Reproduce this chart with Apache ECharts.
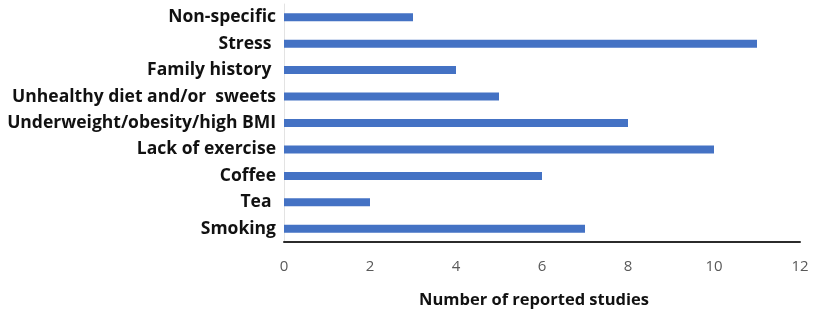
<!DOCTYPE html>
<html><head><meta charset="utf-8">
<script src="https://cdn.jsdelivr.net/npm/echarts@6/dist/echarts.min.js"></script>
<style>html,body{margin:0;padding:0;background:#fff}#c{width:829px;height:312px}</style>
</head><body><div id="c"></div>
<script>
const categories = ["Smoking", "Tea ", "Coffee", "Lack of exercise", "Underweight/obesity/high BMI", "Unhealthy diet and/or  sweets", "Family history ", "Stress ", "Non-specific"];
const values = [7, 2, 6, 10, 8, 5, 4, 11, 3];
const xTicks = [0, 2, 4, 6, 8, 10, 12];
const chart = echarts.init(document.getElementById('c'));
chart.setOption({
  animation: false,
  grid: {left: 284, right: 29, top: 4, height: 238, containLabel: false, outerBoundsMode: 'none'},
  xAxis: {
    type: 'value', min: 0, max: 12, interval: 2,
    name: 'Number of reported studies', nameLocation: 'middle', nameGap: 50,
    nameTextStyle: {fontFamily: 'Open Sans', fontWeight: 'bold', fontSize: 16.5, color: '#111', padding: [0, 16, 0, 0]},
    axisLine: {show: true, lineStyle: {color: '#2b2b2b', width: 2}},
    axisTick: {show: false},
    splitLine: {show: false},
    axisLabel: {fontFamily: 'Open Sans', fontSize: 15, color: '#595959', margin: 17,
      formatter: v => xTicks.includes(v) ? String(v) : ''}
  },
  yAxis: {
    type: 'category', data: categories,
    axisLine: {show: true, lineStyle: {color: '#e3e3e3', width: 1}},
    axisTick: {show: false},
    axisLabel: {fontFamily: 'Open Sans', fontWeight: 'bold', fontSize: 17.5, color: '#111', margin: 8}
  },
  series: [{type: 'bar', data: values, barWidth: 8, itemStyle: {color: '#4472C4'}}]
});
</script></body></html>
